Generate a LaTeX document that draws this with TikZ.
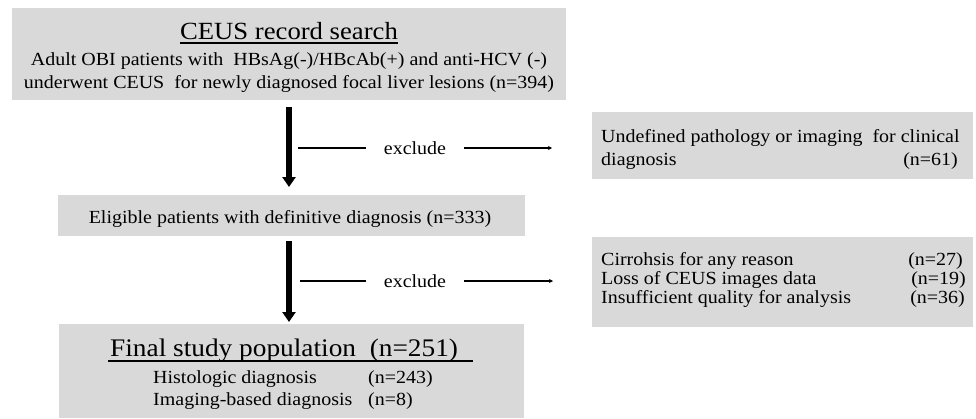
\documentclass[tikz,border=0pt]{standalone}
\usepackage{fontspec}
\setmainfont{Liberation Serif}[FakeStretch=1.08]
\usetikzlibrary{arrows.meta}
\definecolor{boxgray}{RGB}{217,217,217}
\begin{document}
\begin{tikzpicture}[x=1pt,y=-1pt,
  box/.style={fill=boxgray, draw=none, inner sep=0pt, anchor=north west},
  txt/.style={inner sep=0pt, font=\fontsize{18.5}{20}\selectfont},
  big/.style={inner sep=0pt, font=\fontsize{24.7}{26}\selectfont},
  bigger/.style={inner sep=0pt, font=\fontsize{25.3}{27}\selectfont},
  bigarrow/.style={line width=6pt, -{Triangle[width=13pt,length=10pt]}},
  thinline/.style={line width=1.2pt},
  thinarrow/.style={line width=1.2pt, -{Stealth[width=4pt,length=4pt]}},
  uline/.style={line width=1.2pt}]
\useasboundingbox (0,0) rectangle (976,418);
% boxes
\node[box, minimum width=554pt, minimum height=92pt] (b1) at (12,8) {};
\node[box, minimum width=467pt, minimum height=41pt] (b2) at (58,195) {};
\node[box, minimum width=465pt, minimum height=94pt] (b3) at (59,324) {};
\node[box, minimum width=381pt, minimum height=67pt] (r1) at (592,112) {};
\node[box, minimum width=381pt, minimum height=90pt] (r2) at (592,237) {};
% box 1 text
\node[big, anchor=base] (t1) at (289,39) {CEUS record search};
\draw[uline] ([yshift=-4pt]t1.base west) -- ([yshift=-4pt]t1.base east);
\node[txt, anchor=base] (l1) at (289,65) {Adult OBI patients with\ \ HBsAg(-)/HBcAb(+) and anti-HCV (-)};
\node[txt, anchor=base] (l2) at (289,88) {underwent CEUS\ \ for newly diagnosed focal liver lesions (n=394)};
% box 2 text
\node[txt, anchor=base] (t2) at (290,223) {Eligible patients with definitive diagnosis (n=333)};
% box 3 text
\node[bigger, anchor=base west] (t3) at (110,356) {Final study population\ \ (n=251)};
\coordinate (u3a) at (108,361);
\coordinate (u3b) at (473,361);
\draw[uline] (u3a) -- (u3b);
\node[txt, anchor=base west] (h1) at (153,383) {Histologic diagnosis};
\node[txt, anchor=base west] (h1n) at (368,383) {(n=243)};
\node[txt, anchor=base west] (h2) at (153,405) {Imaging-based diagnosis};
\node[txt, anchor=base west] (h2n) at (368,405) {(n=8)};
% right box 1
\node[txt, anchor=base west] (r1a) at (601,142) {Undefined pathology or imaging\ \ for clinical};
\node[txt, anchor=base west] (r1b) at (601,165) {diagnosis};
\node[txt, anchor=base east] (r1n) at (958,165) {(n=61)};
% right box 2
\node[txt, anchor=base west] (r2a) at (601,265) {Cirrohsis for any reason};
\node[txt, anchor=base east] (r2an) at (963,265) {(n=27)};
\node[txt, anchor=base west] (r2b) at (601,284) {Loss of CEUS images data};
\node[txt, anchor=base east] (r2bn) at (966,284) {(n=19)};
\node[txt, anchor=base west] (r2c) at (601,303) {Insufficient quality for analysis};
\node[txt, anchor=base east] (r2cn) at (965,303) {(n=36)};
% main arrows
\coordinate (ax) at (289,0);
\draw[bigarrow] ([yshift=-7pt]b1.south -| ax) -- ([yshift=8pt]b2.north -| ax);
\draw[bigarrow] ([yshift=-5pt]b2.south -| ax) -- ([yshift=2pt]b3.north -| ax);
% exclude 1
\node[txt, inner xsep=18pt] (e1) at (415,148) {exclude};
\coordinate (e1s) at (298,148);
\draw[thinline] (e1s) -- (e1.west);
\draw[thinarrow] (e1.east) -- ([xshift=-40pt]r1.west |- e1.east);
% exclude 2
\node[txt, inner xsep=18pt] (e2) at (415,281) {exclude};
\coordinate (e2s) at (300,281);
\draw[thinline] (e2s) -- (e2.west);
\draw[thinarrow] (e2.east) -- ([xshift=-39pt]r2.west |- e2.east);
\end{tikzpicture}
\end{document}
